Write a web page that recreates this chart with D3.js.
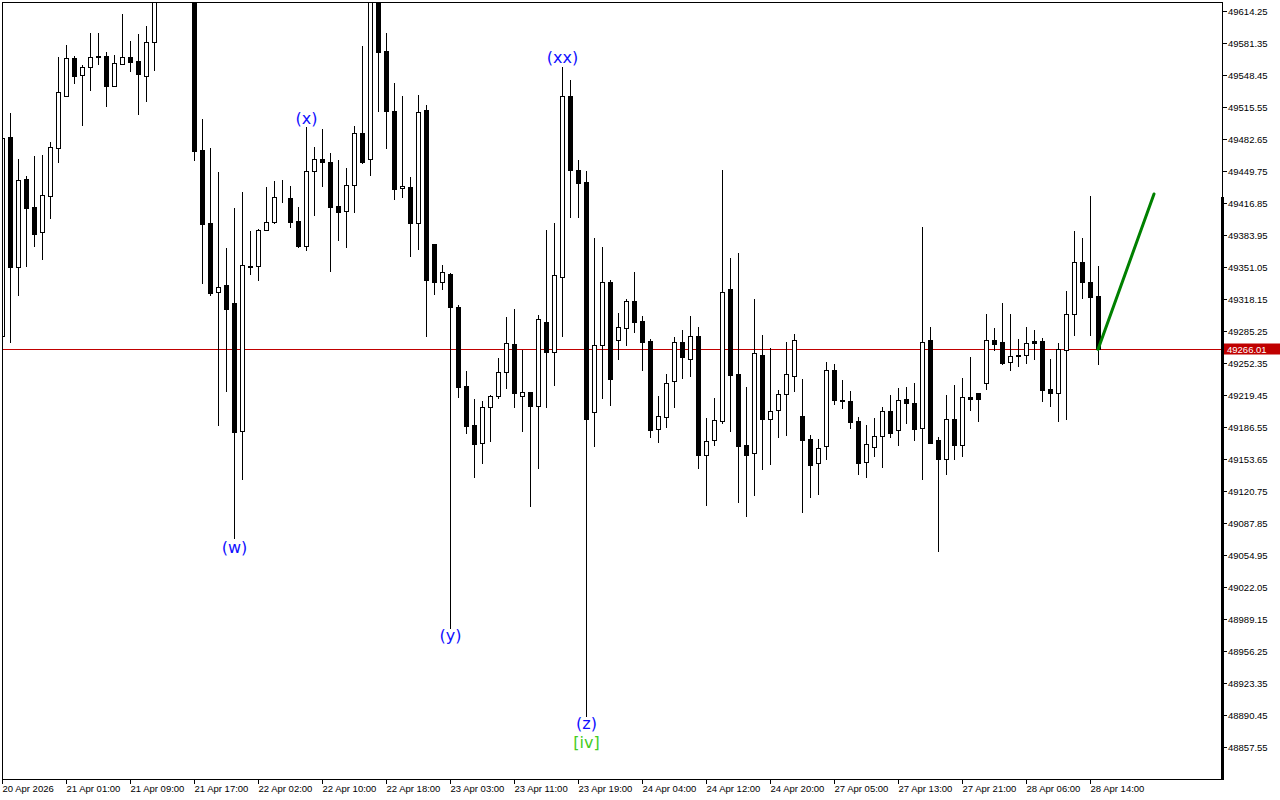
<!DOCTYPE html>
<html>
<head>
<meta charset="utf-8">
<script src="https://cdn.jsdelivr.net/npm/d3@7/dist/d3.min.js"></script>
<style>
html,body{margin:0;padding:0;background:#fff;}
svg{display:block;}
</style>
</head>
<body>
<svg id="chart" width="1280" height="800"></svg>
<script>
// ---- DATA ----
const opens = [49280.1,49483.9,49351.0,49441.2,49412.4,49386.9,49424.0,49473.6,49526.9,49565.6,
49548.6,49555.9,49567.2,49567.7,49537.1,49559.9,49566.6,49562.5,49547.4,49582.5,
49640.7,49655,49680,49670,49650,49470.6,49396.0,49325.0,49332.2,49313.7,
49181.7,49351.8,49351.4,49388.4,49397.2,49422.1,49421.7,49398.0,49372.6,49449.0,
49461.8,49458.7,49413.5,49407.9,49435.5,49489.0,49461.5,49640,49572.8,49511.1,
49431.9,49433.4,49395.6,49512.2,49374.4,49335.3,49343.5,49309.6,49228.4,49188.3,
49170.0,49206.8,49217.6,49242.8,49271.6,49218.6,49222.7,49208.3,49293.8,49263.7,
49340.9,49526.6,49450.5,49438.1,49201.3,49270.6,49335.3,49275.4,49287.7,49315.8,
49295.2,49274.7,49183.9,49196.2,49233.2,49273.3,49255.9,49279.5,49157.1,49172.6,
49192.1,49327.8,49240.7,49167.7,49159.2,49260.0,49194.8,49203.4,49220.5,49239.0,
49197.6,49173.9,49148.9,49166.4,49244.5,49214.0,49212.7,49192.1,49150.0,49165.4,
49176.7,49202.4,49182.8,49214.7,49210.6,49184.9,49275.4,49172.6,49153.0,49194.2,
49167.4,49216.8,49220.9,49231.2,49275.4,49273.3,49252.8,49260.3,49260.0,49274.4,
49274.4,49225.0,49221.5,49265.1,49302.1,49355.6,49335.3,49320.9];
const highs = [49485.4,49509.1,49461.8,49444.3,49464.9,49465.9,49479.3,49566.6,49579.0,49567.9,
49558.4,49591.3,49591.3,49571.8,49568.7,49610.9,49583.1,49590.3,49598.5,49656.1,
49668,49690,49700,49685,49660,49502.9,49473.1,49447.9,49370.3,49411.4,
49427.9,49387.8,49390.2,49432.5,49439.2,49440.2,49434.0,49412.4,49494.2,49474.3,
49492.6,49468.0,49460.8,49452.5,49496.0,49578.0,49645.8,49650,49591.3,49539.9,
49526.6,49443.3,49527.6,49517.3,49374.4,49353.1,49344.6,49311.2,49243.8,49215.0,
49213.0,49219.1,49257.2,49299.3,49307.6,49265.4,49222.7,49301.4,49388.8,49396.0,
49556.4,49543.4,49460.8,49449.9,49380.8,49371.3,49337.4,49303.5,49317.8,49345.6,
49300.4,49277.0,49218.1,49241.0,49278.8,49286.0,49300.4,49288.7,49195.5,49216.1,
49450.5,49360.0,49365.1,49227.4,49317.8,49280.8,49267.2,49224.3,49273.6,49281.6,
49235.3,49178.0,49173.9,49253.1,49251.0,49234.6,49223.3,49196.5,49188.3,49195.5,
49206.8,49219.1,49226.3,49227.4,49231.5,49391.9,49288.7,49175.7,49219.1,49229.4,
49236.6,49258.2,49220.9,49302.4,49287.7,49313.7,49302.4,49276.7,49289.1,49286.0,
49277.4,49256.2,49272.6,49326.1,49387.8,49380.6,49423.7,49351.8];
const lows = [49278.8,49273.6,49322.4,49351.8,49372.3,49359.0,49401.1,49458.7,49526.6,49540.4,
49496.7,49533.1,49559.9,49516.3,49536.8,49559.5,49552.6,49508.4,49521.4,49553.3,
49630,49645,49660,49640,49461.2,49334.8,49321.9,49188.3,49223.6,49072.6,
49133.2,49344.0,49337.4,49388.4,49396.0,49417.6,49391.9,49370.8,49368.6,49404.2,
49434.3,49346.6,49378.9,49371.5,49407.5,49457.7,49445.7,49511.4,49473.1,49421.1,
49422.7,49362.4,49369.5,49280.0,49322.5,49328.1,48979.6,49216.6,49180.3,49135.3,
49149.5,49172.1,49216.1,49226.3,49207.3,49182.3,49105.5,49144.4,49207.3,49229.8,
49279.8,49402.2,49402.2,48888.7,49166.9,49216.1,49209.2,49256.5,49270.9,49284.2,
49245.2,49175.7,49171.1,49186.6,49207.1,49236.9,49239.0,49143.8,49105.7,49168.0,
49190.4,49182.4,49108.8,49095.1,49116.6,49143.4,49148.5,49176.3,49178.0,49223.6,
49098.5,49114.6,49117.7,49153.7,49209.9,49206.0,49185.6,49138.2,49135.2,49156.7,
49145.4,49176.3,49168.0,49190.7,49173.2,49133.1,49169.8,49059.1,49138.2,49153.7,
49156.7,49204.0,49192.7,49225.6,49265.1,49251.3,49245.2,49249.3,49252.4,49256.5,
49213.3,49208.1,49192.7,49194.8,49281.1,49319.2,49281.1,49251.3];
const closes = [49483.2,49351.0,49439.8,49411.9,49384.7,49424.4,49474.1,49530.7,49565.6,49547.4,
49556.4,49566.6,49566.8,49536.8,49560.5,49566.6,49561.0,49549.2,49582.5,49640.7,
49655,49680,49670,49650,49470.3,49395.4,49324.0,49330.2,49308.0,49180.6,
49352.8,49351.2,49388.8,49397.0,49422.7,49421.5,49397.0,49372.3,49449.0,49461.8,
49458.2,49412.4,49407.5,49435.0,49489.0,49458.9,49630.4,49571.3,49511.4,49431.3,
49434.0,49395.6,49509.7,49337.8,49335.7,49345.6,49310.1,49227.8,49187.3,49169.0,
49206.8,49217.6,49242.8,49272.6,49221.2,49222.7,49208.3,49297.3,49263.7,49342.5,
49526.6,49450.8,49437.5,49194.1,49270.6,49335.3,49235.9,49288.7,49315.8,49294.5,
49273.9,49183.5,49197.2,49231.5,49273.3,49257.9,49279.5,49157.1,49171.5,49193.1,
49324.7,49240.0,49167.0,49157.1,49262.3,49194.8,49202.4,49219.9,49240.4,49275.4,
49172.6,49147.5,49164.3,49244.5,49213.7,49213.4,49191.7,49149.5,49168.5,49176.7,
49202.4,49180.4,49213.7,49210.6,49183.9,49273.3,49170.1,49153.0,49194.2,49168.0,
49216.8,49214.7,49215.3,49275.4,49271.9,49252.4,49258.9,49259.7,49272.3,49272.9,
49224.6,49221.5,49266.1,49302.1,49355.6,49335.6,49320.2,49266.01];

const priceTicks = ["49614.25","49581.35","49548.45","49515.55","49482.65","49449.75","49416.85",
"49383.95","49351.05","49318.15","49285.25","49252.35","49219.45","49186.55","49153.65",
"49120.75","49087.85","49054.95","49022.05","48989.15","48956.25","48923.35","48890.45","48857.55"];

const timeTickBars = [0,8,16,24,32,40,48,56,64,72,80,88,96,104,112,120,128,136];
const timeTickLabels = ["20 Apr 2026","21 Apr 01:00","21 Apr 09:00","21 Apr 17:00","22 Apr 02:00",
"22 Apr 10:00","22 Apr 18:00","23 Apr 03:00","23 Apr 11:00","23 Apr 19:00","24 Apr 04:00",
"24 Apr 12:00","24 Apr 20:00","27 Apr 05:00","27 Apr 13:00","27 Apr 21:00","28 Apr 06:00","28 Apr 14:00"];

const waveBars   = [29, 38, 56, 70, 73, 73];
const waveTexts  = ["(w)", "(x)", "(y)", "(xx)", "(z)", "[iv]"];
const waveSides  = ["low", "high", "low", "high", "low", "low"];
const waveColors = ["#1010ff", "#1010ff", "#1010ff", "#1010ff", "#1010ff", "#44cc22"];

const currentPrice = 49266.01;
const forecastBars = [137, 144];
const forecastPrices = [49266.01, 49425.8];

// ---- LAYOUT ----
const svg = d3.select("#chart");
const L = 2, R = 1222, T = 2, B = 779;
const x = d3.scaleLinear().domain([0, 152.5]).range([L, R]);
const y = d3.scaleLinear().domain([48857.55, 49614.25]).range([10.7 + 736, 10.7]);

const font = "'Liberation Sans', Arial, sans-serif";
const axisSize = 9.5;

svg.append("defs").append("clipPath").attr("id", "plot")
  .append("rect").attr("x", L).attr("y", T).attr("width", R - L).attr("height", B - T);

const g = svg.append("g").attr("clip-path", "url(#plot)").attr("shape-rendering", "crispEdges");

// current price line
g.append("line")
  .attr("x1", L).attr("x2", R)
  .attr("y1", Math.round(y(currentPrice)) + 0.5).attr("y2", Math.round(y(currentPrice)) + 0.5)
  .attr("stroke", "#c00000").attr("stroke-width", 1);

const bars = d3.range(opens.length).map(i => ({i, o: opens[i], h: highs[i], l: lows[i], c: closes[i]}));

// wicks
g.selectAll("line.wick").data(bars).enter().append("line")
  .attr("class", "wick")
  .attr("x1", d => Math.round(x(d.i)) + 0.5).attr("x2", d => Math.round(x(d.i)) + 0.5)
  .attr("y1", d => Math.round(y(d.h))).attr("y2", d => Math.round(y(d.l)) + 1)
  .attr("stroke", "#000").attr("stroke-width", 1);

// bodies
g.selectAll("rect.body").data(bars).enter().append("rect")
  .attr("class", "body")
  .attr("x", d => Math.round(x(d.i)) - 2 + 0.5)
  .attr("width", 4)
  .attr("y", d => Math.round(y(Math.max(d.o, d.c))) + 0.5)
  .attr("height", d => Math.max(0, Math.round(y(Math.min(d.o, d.c))) - Math.round(y(Math.max(d.o, d.c)))))
  .attr("fill", d => d.c >= d.o ? "#fff" : "#000")
  .attr("stroke", "#000").attr("stroke-width", 1);

// forecast line
svg.append("g").attr("clip-path", "url(#plot)").append("line")
  .attr("x1", x(forecastBars[0])).attr("y1", y(forecastPrices[0]))
  .attr("x2", x(forecastBars[1])).attr("y2", y(forecastPrices[1]))
  .attr("stroke", "#008000").attr("stroke-width", 3).attr("stroke-linecap", "round");

// wave labels
const offs = {"(w)": 10, "(x)": -9, "(y)": 8, "(xx)": -9, "(z)": 7, "[iv]": 26};
waveTexts.forEach((t, k) => {
  const b = bars[waveBars[k]];
  const base = waveSides[k] === "low" ? y(b.l) : y(b.h);
  svg.append("text")
    .attr("x", x(b.i) + 0.5).attr("y", base + offs[t])
    .attr("text-anchor", "middle").attr("dominant-baseline", "central")
    .attr("font-family", "'DejaVu Sans', Verdana, sans-serif").attr("font-size", 16)
    .attr("fill", waveColors[k]).text(t);
});

// frame
const fr = svg.append("g").attr("shape-rendering", "crispEdges");
fr.append("rect").attr("x", L + 0.5).attr("y", T + 0.5).attr("width", R - L).attr("height", B - T)
  .attr("fill", "none").attr("stroke", "#000").attr("stroke-width", 1);
fr.append("rect").attr("x", R - 1).attr("y", 197).attr("width", 3).attr("height", B - 197 + 1)
  .attr("fill", "#000");

// price axis
const ya = svg.append("g");
priceTicks.forEach(s => {
  const v = +s;
  const yy = Math.round(y(v)) + 0.5;
  ya.append("line").attr("x1", R + 1).attr("x2", R + 5).attr("y1", yy).attr("y2", yy)
    .attr("stroke", "#000").attr("shape-rendering", "crispEdges");
  ya.append("text").attr("x", R + 6).attr("y", yy).attr("dominant-baseline", "central")
    .attr("font-family", font).attr("font-size", axisSize).attr("fill", "#000").text(s);
});

// current price label
const cy = Math.round(y(currentPrice));
ya.append("rect").attr("x", R + 2).attr("y", cy - 5.5).attr("width", 56).attr("height", 11)
  .attr("fill", "#c00000");
ya.append("text").attr("x", R + 5).attr("y", cy + 0.5).attr("dominant-baseline", "central")
  .attr("font-family", font).attr("font-size", axisSize).attr("fill", "#fff").text(currentPrice.toFixed(2));

// time axis
const xa = svg.append("g");
timeTickBars.forEach((bi, k) => {
  const xx = Math.round(x(bi)) + 0.5;
  xa.append("line").attr("x1", xx).attr("x2", xx).attr("y1", B).attr("y2", B + 5)
    .attr("stroke", "#000").attr("shape-rendering", "crispEdges");
  xa.append("text").attr("x", xx).attr("y", B + 9).attr("dominant-baseline", "central")
    .attr("font-family", font).attr("font-size", axisSize).attr("fill", "#000").text(timeTickLabels[k]);
});
</script>
</body>
</html>
